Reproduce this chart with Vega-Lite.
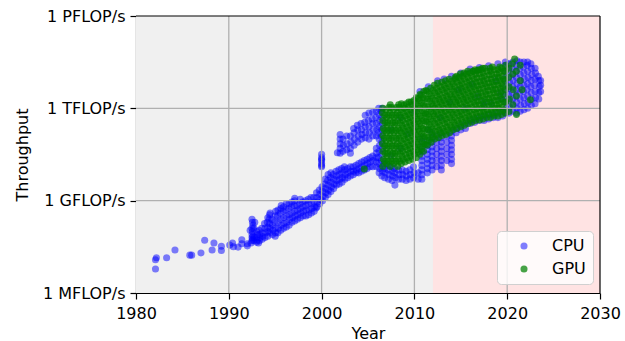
{
"$schema":"https://vega.github.io/schema/vega-lite/v6.json",
"width":464,"height":277,
"autosize":{"type":"none"},
"padding":{"left":136,"top":16,"right":25,"bottom":48},
"background":"white",
"config":{"view":{"stroke":null},"font":"DejaVu Sans",
"axis":{"labelFont":"DejaVu Sans","titleFont":"DejaVu Sans","labelFontSize":16,"titleFontSize":16,"labelColor":"#000","titleColor":"#000","titleFontWeight":"normal","tickColor":"#000","domainColor":"#000","tickSize":6,"domainWidth":1.2,"tickWidth":1.2,"grid":false,"zindex":1,"labelOverlap":false,"labelFlush":false},
"axisX":{"labelPadding":6,"titlePadding":4},
"axisY":{"labelPadding":5,"titlePadding":12}},
"datasets":{
"cpu":[
{"year":1982.1,"flops":1.2e7},{"year":1982.2,"flops":1.4e7},{"year":1982.1,"flops":6e6},{"year":1983.3,"flops":1.4e7},{"year":1984.2,"flops":2.5e7},{"year":1985.8,"flops":1.7e7},{"year":1986.0,"flops":1.7e7},{"year":1987.0,"flops":2e7},{"year":1987.4,"flops":5.2e7},{"year":1988.2,"flops":2.5e7},{"year":1988.4,"flops":4.2e7},{"year":1989.2,"flops":3.3e7},{"year":1989.2,"flops":2.4e7},{"year":1990.1,"flops":3.6e7},{"year":1990.4,"flops":4.2e7},{"year":1990.5,"flops":3.2e7},{"year":1991.0,"flops":3.1e7},{"year":1991.4,"flops":5.4e7},{"year":1991.4,"flops":4e7},{"year":1992.0,"flops":3.4e7},{"year":1992.0,"flops":4e7},{"year":1992.3,"flops":1.1e8},{"year":1992.4,"flops":4.2e7},{"year":1993.2,"flops":4.2e7},
{"year":1992.5,"flops":5e7},{"year":1992.55,"flops":5.6e7},{"year":1992.5,"flops":6.3e7},{"year":1992.6,"flops":7e7},{"year":1992.5,"flops":8e7},{"year":1992.55,"flops":1e8},{"year":1992.5,"flops":1.26e8},{"year":1992.6,"flops":1.6e8},{"year":1992.55,"flops":2e8},{"year":1992.5,"flops":2.5e8},
{"year":1992.7,"flops":5e7},{"year":1992.75,"flops":6.3e7},{"year":1992.7,"flops":1.26e8},{"year":1992.8,"flops":2e8},
{"year":1993.0,"flops":4.5e7},{"year":1993.05,"flops":5.2e7},{"year":1993.0,"flops":6.3e7},{"year":1993.1,"flops":8e7},{"year":1993.0,"flops":1e8},
{"year":1993.3,"flops":5e7},{"year":1993.35,"flops":6.3e7},{"year":1993.3,"flops":8e7},{"year":1993.25,"flops":1.1e8},
{"year":1993.6,"flops":5.6e7},{"year":1993.65,"flops":7e7},{"year":1993.6,"flops":9e7},{"year":1993.55,"flops":1.26e8},
{"year":1993.9,"flops":6.3e7},{"year":1993.95,"flops":9e7},{"year":1993.9,"flops":1.26e8},{"year":1993.85,"flops":1.8e8},
{"year":1994.2,"flops":7e7},{"year":1994.25,"flops":1e8},{"year":1994.2,"flops":1.4e8},{"year":1994.15,"flops":2e8},{"year":1994.2,"flops":2.8e8},
{"year":1994.4,"flops":9e7},{"year":1994.45,"flops":1.26e8},{"year":1994.4,"flops":1.8e8},{"year":1994.35,"flops":2.5e8},{"year":1994.4,"flops":3.5e8},{"year":1994.45,"flops":4e8},
{"year":1994.7,"flops":8e7},{"year":1994.75,"flops":1.1e8},{"year":1994.7,"flops":1.6e8},{"year":1994.65,"flops":2.5e8},
{"year":1995.0,"flops":7e7},{"year":1995.05,"flops":9e7},{"year":1995.0,"flops":1.26e8},{"year":1994.95,"flops":2e8},{"year":1995.0,"flops":3.2e8},{"year":1995.05,"flops":4.5e8},
{"year":1995.3,"flops":9e7},{"year":1995.35,"flops":1.26e8},{"year":1995.3,"flops":2e8},{"year":1995.25,"flops":3.2e8},{"year":1995.3,"flops":5e8},
{"year":1995.6,"flops":1.1e8},{"year":1995.65,"flops":1.6e8},{"year":1995.6,"flops":2.5e8},{"year":1995.55,"flops":4e8},{"year":1995.6,"flops":5.6e8},{"year":1995.65,"flops":7e8},
{"year":1995.9,"flops":1.26e8},{"year":1995.95,"flops":1.8e8},{"year":1995.9,"flops":2.8e8},{"year":1995.85,"flops":4.5e8},{"year":1995.9,"flops":6.3e8},
{"year":1996.2,"flops":1.4e8},{"year":1996.25,"flops":2e8},{"year":1996.2,"flops":3.2e8},{"year":1996.15,"flops":5e8},{"year":1996.2,"flops":8e8},
{"year":1996.5,"flops":1.6e8},{"year":1996.55,"flops":2.5e8},{"year":1996.5,"flops":3.5e8},{"year":1996.45,"flops":5.6e8},{"year":1996.5,"flops":8e8},
{"year":1996.8,"flops":2e8},{"year":1996.85,"flops":2.8e8},{"year":1996.8,"flops":4e8},{"year":1996.75,"flops":6.3e8},{"year":1996.8,"flops":9e8},
{"year":1997.1,"flops":2.2e8},{"year":1997.15,"flops":3.2e8},{"year":1997.1,"flops":4.5e8},{"year":1997.05,"flops":7e8},{"year":1997.1,"flops":1e9},{"year":1997.1,"flops":1.2e9},
{"year":1997.4,"flops":2.5e8},{"year":1997.45,"flops":3.5e8},{"year":1997.4,"flops":5e8},{"year":1997.35,"flops":7e8},
{"year":1997.7,"flops":2.8e8},{"year":1997.75,"flops":4e8},{"year":1997.7,"flops":5.6e8},{"year":1997.65,"flops":8e8},{"year":1997.7,"flops":1.1e9},
{"year":1998.0,"flops":3.2e8},{"year":1998.05,"flops":4.5e8},{"year":1998.0,"flops":6.3e8},{"year":1997.95,"flops":9e8},
{"year":1998.3,"flops":3.2e8},{"year":1998.35,"flops":5e8},{"year":1998.3,"flops":7e8},{"year":1998.25,"flops":1e9},
{"year":1998.6,"flops":3.5e8},{"year":1998.65,"flops":5e8},{"year":1998.6,"flops":8e8},{"year":1998.55,"flops":1.1e9},
{"year":1998.9,"flops":4e8},{"year":1998.95,"flops":5.6e8},{"year":1998.9,"flops":8e8},{"year":1998.85,"flops":1.26e9},
{"year":1999.2,"flops":4.5e8},{"year":1999.25,"flops":6.3e8},{"year":1999.2,"flops":9e8},{"year":1999.15,"flops":1.26e9},{"year":1999.4,"flops":5.8e8},
{"year":1999.5,"flops":6.3e8},{"year":1999.55,"flops":9e8},{"year":1999.5,"flops":1.26e9},{"year":1999.45,"flops":1.8e9},
{"year":1999.8,"flops":8e8},{"year":1999.85,"flops":1.1e9},{"year":1999.8,"flops":1.6e9},{"year":1999.75,"flops":2.2e9},
{"year":2000.0,"flops":1.26e10},{"year":2000.0,"flops":1.4e10},{"year":2000.0,"flops":1.6e10},{"year":2000.0,"flops":2e10},{"year":2000.0,"flops":2.2e10},{"year":2000.0,"flops":2.5e10},{"year":2000.0,"flops":3.2e10},
{"year":2000.1,"flops":1e9},{"year":2000.15,"flops":1.4e9},{"year":2000.1,"flops":2e9},{"year":2000.05,"flops":2.8e9},
{"year":2000.4,"flops":1.26e9},{"year":2000.45,"flops":1.8e9},{"year":2000.4,"flops":2.5e9},{"year":2000.35,"flops":3.5e9},{"year":2000.4,"flops":5e9},
{"year":2000.7,"flops":1.6e9},{"year":2000.75,"flops":2.2e9},{"year":2000.7,"flops":3.2e9},{"year":2000.65,"flops":4.5e9},{"year":2000.7,"flops":7e9},
{"year":2001.0,"flops":2e9},{"year":2001.05,"flops":2.8e9},{"year":2001.0,"flops":4e9},{"year":2000.95,"flops":5.6e9},{"year":2001.0,"flops":8e9},
{"year":2001.3,"flops":2.5e9},{"year":2001.35,"flops":3.5e9},{"year":2001.3,"flops":5e9},{"year":2001.25,"flops":7e9},
{"year":2001.6,"flops":3.2e9},{"year":2001.65,"flops":4.5e9},{"year":2001.6,"flops":6.3e9},{"year":2001.55,"flops":9e9},
{"year":2001.9,"flops":3.5e9},{"year":2001.95,"flops":5e9},{"year":2001.9,"flops":7e9},{"year":2001.85,"flops":1e10},
{"year":2002.2,"flops":4e9},{"year":2002.25,"flops":5.6e9},{"year":2002.2,"flops":8e9},{"year":2002.15,"flops":1.1e10},
{"year":2002.5,"flops":5e9},{"year":2002.55,"flops":7e9},{"year":2002.5,"flops":1e10},{"year":2002.45,"flops":1.26e10},
{"year":2002.8,"flops":5.6e9},{"year":2002.85,"flops":8e9},{"year":2002.8,"flops":1.1e10},
{"year":2003.1,"flops":6.3e9},{"year":2003.15,"flops":9e9},{"year":2003.1,"flops":1.26e10},
{"year":2003.4,"flops":7e9},{"year":2003.45,"flops":9e9},{"year":2003.4,"flops":1.26e10},
{"year":2003.7,"flops":8e9},{"year":2003.75,"flops":1e10},{"year":2003.7,"flops":1.4e10},
{"year":2004.0,"flops":8e9},{"year":2004.05,"flops":1.1e10},{"year":2004.0,"flops":1.6e10},
{"year":2004.3,"flops":9e9},{"year":2004.35,"flops":1.26e10},{"year":2004.3,"flops":1.8e10},
{"year":2004.6,"flops":1e10},{"year":2004.65,"flops":1.4e10},{"year":2004.6,"flops":2e10},
{"year":2004.9,"flops":1.1e10},{"year":2004.95,"flops":1.6e10},{"year":2004.9,"flops":2.2e10},
{"year":2005.2,"flops":1.26e10},{"year":2005.25,"flops":1.8e10},{"year":2005.2,"flops":2.5e10},
{"year":2005.5,"flops":1.26e10},{"year":2005.55,"flops":2e10},{"year":2005.5,"flops":2.8e10},
{"year":2005.9,"flops":1.26e10},{"year":2005.9,"flops":1.8e10},{"year":2005.9,"flops":2.5e10},{"year":2005.9,"flops":3.5e10},{"year":2005.9,"flops":5e10},
{"year":2001.7,"flops":3.6e10},
{"year":2002.0,"flops":3.5e10},{"year":2002.0,"flops":5e10},{"year":2002.0,"flops":7e10},{"year":2002.0,"flops":1e11},{"year":2002.0,"flops":1.4e11},
{"year":2002.3,"flops":4e10},{"year":2002.35,"flops":6.3e10},{"year":2002.3,"flops":1e11},
{"year":2002.7,"flops":4.5e10},{"year":2002.75,"flops":7e10},{"year":2002.7,"flops":1.26e11},
{"year":2003.1,"flops":3.5e10},{"year":2003.1,"flops":5e10},{"year":2003.15,"flops":8e10},{"year":2003.1,"flops":1.26e11},
{"year":2003.5,"flops":6.3e10},{"year":2003.55,"flops":1e11},{"year":2003.5,"flops":1.6e11},{"year":2003.45,"flops":2.2e11},
{"year":2003.9,"flops":8e10},{"year":2003.95,"flops":1.26e11},{"year":2003.9,"flops":2e11},{"year":2003.85,"flops":2.8e11},
{"year":2004.3,"flops":1e11},{"year":2004.35,"flops":1.4e11},{"year":2004.3,"flops":2e11},{"year":2004.25,"flops":3.2e11},
{"year":2004.7,"flops":1.1e11},{"year":2004.75,"flops":1.6e11},{"year":2004.7,"flops":2.5e11},{"year":2004.65,"flops":3.5e11},{"year":2004.7,"flops":6e11},
{"year":2005.1,"flops":1e11},{"year":2005.15,"flops":1.6e11},{"year":2005.1,"flops":2.5e11},{"year":2005.05,"flops":4e11},{"year":2005.1,"flops":7e11},
{"year":2005.5,"flops":1.26e11},{"year":2005.55,"flops":2e11},{"year":2005.5,"flops":3.2e11},{"year":2005.45,"flops":4.5e11},{"year":2005.5,"flops":7.5e11},
{"year":2005.9,"flops":1.26e11},{"year":2005.95,"flops":2e11},{"year":2005.9,"flops":3.2e11},{"year":2005.85,"flops":5e11},{"year":2005.9,"flops":8e11},
{"year":2006.2,"flops":8e9},{"year":2006.25,"flops":1.1e10},{"year":2006.2,"flops":1.6e10},{"year":2006.15,"flops":2.5e10},{"year":2006.2,"flops":4e10},{"year":2006.25,"flops":6.3e10},{"year":2006.2,"flops":1e11},{"year":2006.15,"flops":1.6e11},{"year":2006.2,"flops":2.5e11},{"year":2006.25,"flops":4e11},{"year":2006.2,"flops":6.3e11},{"year":2006.15,"flops":1e12},
{"year":2006.5,"flops":6.3e9},{"year":2006.55,"flops":9e9},{"year":2006.5,"flops":1.26e10},{"year":2006.45,"flops":2e10},{"year":2006.5,"flops":3.2e10},{"year":2006.55,"flops":5e10},{"year":2006.5,"flops":8e10},{"year":2006.45,"flops":1.26e11},{"year":2006.5,"flops":2e11},{"year":2006.55,"flops":3.2e11},{"year":2006.5,"flops":5e11},{"year":2006.45,"flops":8e11},{"year":2006.5,"flops":1e12},
{"year":2006.8,"flops":5.6e9},{"year":2006.85,"flops":8e9},{"year":2006.8,"flops":1.1e10},{"year":2006.75,"flops":1.6e10},
{"year":2007.2,"flops":5e9},{"year":2007.25,"flops":7e9},{"year":2007.2,"flops":1e10},{"year":2007.15,"flops":1.4e10},
{"year":2007.6,"flops":4.5e9},{"year":2007.65,"flops":6.3e9},{"year":2007.6,"flops":9e9},{"year":2007.55,"flops":1.26e10},
{"year":2007.9,"flops":3.2e9},{"year":2007.95,"flops":5.6e9},{"year":2007.9,"flops":8e9},{"year":2007.85,"flops":1.1e10},
{"year":2008.3,"flops":5e9},{"year":2008.35,"flops":7e9},{"year":2008.3,"flops":1e10},
{"year":2008.7,"flops":5e9},{"year":2008.75,"flops":7e9},{"year":2008.7,"flops":1e10},
{"year":2009.1,"flops":4.5e9},{"year":2009.15,"flops":6.3e9},{"year":2009.1,"flops":9e9},
{"year":2009.5,"flops":5e9},{"year":2009.55,"flops":7e9},{"year":2009.5,"flops":1e10},
{"year":2009.9,"flops":5.6e9},{"year":2009.95,"flops":8e9},{"year":2009.9,"flops":1.26e10},
{"year":2010.4,"flops":5e9},{"year":2010.4,"flops":8e9},
{"year":2010.8,"flops":5e9},{"year":2010.8,"flops":7e9},{"year":2010.8,"flops":1e10},{"year":2010.8,"flops":1.4e10},{"year":2010.8,"flops":2e10},{"year":2010.8,"flops":2.8e10},{"year":2010.8,"flops":4e10},{"year":2010.8,"flops":5.6e10},{"year":2010.8,"flops":8e10},{"year":2010.8,"flops":1.1e11},
{"year":2011.4,"flops":8e9},{"year":2011.4,"flops":1.1e10},{"year":2011.4,"flops":1.6e10},{"year":2011.4,"flops":2.2e10},{"year":2011.4,"flops":3.2e10},{"year":2011.4,"flops":4.5e10},{"year":2011.4,"flops":6.3e10},{"year":2011.4,"flops":9e10},
{"year":2011.9,"flops":1e10},{"year":2011.9,"flops":1.4e10},{"year":2011.9,"flops":2e10},{"year":2011.9,"flops":2.8e10},{"year":2011.9,"flops":4e10},{"year":2011.9,"flops":5.6e10},{"year":2011.9,"flops":8e10},{"year":2011.9,"flops":1.1e11},{"year":2011.9,"flops":1.6e11},
{"year":2012.4,"flops":1.26e10},{"year":2012.4,"flops":2e10},{"year":2012.4,"flops":3.2e10},{"year":2012.4,"flops":5e10},{"year":2012.4,"flops":8e10},{"year":2012.4,"flops":1.26e11},
{"year":2012.9,"flops":1e10},{"year":2012.9,"flops":1.4e10},{"year":2012.9,"flops":2e10},{"year":2012.9,"flops":2.8e10},{"year":2012.9,"flops":4e10},{"year":2012.9,"flops":5.6e10},{"year":2012.9,"flops":8e10},{"year":2012.9,"flops":1.1e11},{"year":2012.9,"flops":1.6e11},
{"year":2013.5,"flops":2e10},{"year":2013.5,"flops":3.2e10},{"year":2013.5,"flops":5e10},{"year":2013.5,"flops":8e10},{"year":2013.5,"flops":1.26e11},
{"year":2014.0,"flops":1.6e10},{"year":2014.0,"flops":2.2e10},{"year":2014.0,"flops":3.2e10},{"year":2014.0,"flops":4.5e10},{"year":2014.0,"flops":6.3e10},{"year":2014.0,"flops":9e10},{"year":2014.0,"flops":1.26e11},{"year":2014.0,"flops":1.8e11},
{"year":2014.5,"flops":1.6e11},{"year":2014.5,"flops":2.2e11},{"year":2015.0,"flops":2e11},{"year":2015.0,"flops":2.8e11},{"year":2015.5,"flops":2.2e11},{"year":2015.5,"flops":3.2e11},{"year":2016.0,"flops":3.2e11},{"year":2016.0,"flops":4e11},{"year":2016.5,"flops":3.5e11},{"year":2016.5,"flops":4.5e11},{"year":2017.0,"flops":4e11},{"year":2017.0,"flops":5e11},{"year":2017.5,"flops":4e11},{"year":2017.5,"flops":5.6e11},{"year":2018.0,"flops":4.5e11},{"year":2018.0,"flops":6.3e11},{"year":2018.5,"flops":5e11},{"year":2018.5,"flops":6.3e11},{"year":2019.0,"flops":5e11},{"year":2019.0,"flops":7e11},{"year":2019.5,"flops":5.6e11},{"year":2019.5,"flops":8e11},
{"year":2010.6,"flops":3.5e12},{"year":2011.5,"flops":5e12},{"year":2012.5,"flops":7.9e12},{"year":2013.2,"flops":8.9e12},{"year":2014.0,"flops":1.1e13},{"year":2015.0,"flops":1.4e13},{"year":2016.0,"flops":1.9e13},{"year":2017.0,"flops":2.1e13},{"year":2018.0,"flops":2.4e13},{"year":2019.0,"flops":2.8e13},{"year":2019.8,"flops":3.2e13},
{"year":2019.8,"flops":7e11},{"year":2019.85,"flops":1e12},{"year":2019.8,"flops":1.6e12},{"year":2019.75,"flops":2.5e12},{"year":2019.8,"flops":4e12},{"year":2019.85,"flops":6.3e12},{"year":2019.8,"flops":1e13},{"year":2019.75,"flops":1.6e13},{"year":2019.8,"flops":2.5e13},
{"year":2020.2,"flops":7e11},{"year":2020.25,"flops":1.1e12},{"year":2020.2,"flops":1.8e12},{"year":2020.15,"flops":2.8e12},{"year":2020.2,"flops":4.5e12},{"year":2020.25,"flops":7e12},{"year":2020.2,"flops":1.1e13},{"year":2020.15,"flops":1.8e13},{"year":2020.2,"flops":2.8e13},
{"year":2020.6,"flops":8e11},{"year":2020.65,"flops":1.26e12},{"year":2020.6,"flops":2e12},{"year":2020.55,"flops":3.2e12},{"year":2020.6,"flops":5e12},{"year":2020.65,"flops":8e12},{"year":2020.6,"flops":1.26e13},{"year":2020.55,"flops":2e13},{"year":2020.6,"flops":3.2e13},
{"year":2021.0,"flops":7e11},{"year":2021.05,"flops":1e12},{"year":2021.0,"flops":1.6e12},{"year":2020.95,"flops":2.5e12},{"year":2021.0,"flops":4e12},{"year":2021.05,"flops":6.3e12},{"year":2021.0,"flops":1e13},{"year":2020.95,"flops":1.6e13},{"year":2021.0,"flops":2.5e13},{"year":2021.05,"flops":3.5e13},
{"year":2021.4,"flops":8e11},{"year":2021.45,"flops":1.26e12},{"year":2021.4,"flops":2e12},{"year":2021.35,"flops":3.2e12},{"year":2021.4,"flops":5e12},{"year":2021.45,"flops":8e12},{"year":2021.4,"flops":1.26e13},{"year":2021.35,"flops":2e13},{"year":2021.4,"flops":3.2e13},
{"year":2021.8,"flops":9e11},{"year":2021.85,"flops":1.4e12},{"year":2021.8,"flops":2.2e12},{"year":2021.75,"flops":3.5e12},{"year":2021.8,"flops":5.6e12},{"year":2021.85,"flops":9e12},{"year":2021.8,"flops":1.4e13},{"year":2021.75,"flops":2.2e13},{"year":2021.8,"flops":3.2e13},
{"year":2022.2,"flops":1e12},{"year":2022.25,"flops":1.6e12},{"year":2022.2,"flops":2.5e12},{"year":2022.15,"flops":4e12},{"year":2022.2,"flops":6.3e12},{"year":2022.25,"flops":1e13},{"year":2022.2,"flops":1.6e13},{"year":2022.15,"flops":2.5e13},{"year":2022.2,"flops":3.2e13},
{"year":2022.6,"flops":1.26e12},{"year":2022.65,"flops":2e12},{"year":2022.6,"flops":3.2e12},{"year":2022.55,"flops":5e12},{"year":2022.6,"flops":8e12},{"year":2022.65,"flops":1.26e13},{"year":2022.6,"flops":2e13},{"year":2022.55,"flops":2.8e13},
{"year":2023.0,"flops":1.4e12},{"year":2023.05,"flops":2.2e12},{"year":2023.0,"flops":3.5e12},{"year":2022.95,"flops":5.6e12},{"year":2023.0,"flops":9e12},{"year":2023.05,"flops":1.4e13},{"year":2023.0,"flops":2e13},
{"year":2023.4,"flops":2e12},{"year":2023.4,"flops":3.2e12},{"year":2023.45,"flops":5e12},{"year":2023.4,"flops":8e12},{"year":2023.35,"flops":1.1e13},
{"year":2023.6,"flops":3.5e12},{"year":2023.6,"flops":5.6e12},{"year":2023.6,"flops":8e12},
{"year":2007.5,"flops":3e10},{"year":2007.5,"flops":2e11},{"year":2008.5,"flops":5e10},{"year":2008.5,"flops":5e11},{"year":2009.3,"flops":1.5e11},{"year":2010.0,"flops":8e11},{"year":2011.5,"flops":2e11},{"year":2012.8,"flops":5e11},{"year":2013.8,"flops":1.6e12},{"year":2014.8,"flops":4e12},{"year":2015.5,"flops":1e12},{"year":2016.2,"flops":6e12},{"year":2016.8,"flops":2.5e12},{"year":2017.5,"flops":1.26e12},{"year":2017.5,"flops":1.6e12},{"year":2018.3,"flops":1.4e12},{"year":2018.8,"flops":8e12},{"year":2019.3,"flops":2e12},{"year":2019.3,"flops":3.2e12}
],
"gpu":[
{"year":2004.6,"flops":1.07e10},
{"year":2006.6,"flops":1.3e10},{"year":2006.65,"flops":2.2e10},{"year":2006.6,"flops":4e10},{"year":2006.55,"flops":7.1e10},{"year":2006.6,"flops":1.3e11},{"year":2006.65,"flops":2.2e11},{"year":2006.6,"flops":4e11},{"year":2006.55,"flops":7.1e11},{"year":2006.6,"flops":1e12},
{"year":2007.0,"flops":1.6e10},{"year":2007.05,"flops":2.8e10},{"year":2007.0,"flops":5e10},{"year":2006.95,"flops":8.9e10},{"year":2007.0,"flops":1.6e11},{"year":2007.05,"flops":2.8e11},{"year":2007.0,"flops":5e11},{"year":2006.95,"flops":8.9e11},
{"year":2007.4,"flops":1.3e10},{"year":2007.45,"flops":2.2e10},{"year":2007.4,"flops":4e10},{"year":2007.35,"flops":7.1e10},{"year":2007.4,"flops":1.3e11},{"year":2007.45,"flops":2.2e11},{"year":2007.4,"flops":4e11},{"year":2007.35,"flops":7.1e11},{"year":2007.4,"flops":1.3e12},
{"year":2007.8,"flops":1.6e10},{"year":2007.85,"flops":2.8e10},{"year":2007.8,"flops":5e10},{"year":2007.75,"flops":8.9e10},{"year":2007.8,"flops":1.6e11},{"year":2007.85,"flops":2.8e11},{"year":2007.8,"flops":5e11},{"year":2007.75,"flops":8.9e11},
{"year":2008.2,"flops":1.3e10},{"year":2008.25,"flops":2.2e10},{"year":2008.2,"flops":4e10},{"year":2008.15,"flops":7.1e10},{"year":2008.2,"flops":1.3e11},{"year":2008.25,"flops":2.2e11},{"year":2008.2,"flops":4e11},{"year":2008.15,"flops":7.1e11},{"year":2008.3,"flops":1.3e12},
{"year":2008.6,"flops":1.6e10},{"year":2008.65,"flops":2.8e10},{"year":2008.6,"flops":5e10},{"year":2008.55,"flops":8.9e10},{"year":2008.6,"flops":1.6e11},{"year":2008.65,"flops":2.8e11},{"year":2008.6,"flops":5e11},{"year":2008.55,"flops":8.9e11},{"year":2008.6,"flops":1.4e12},
{"year":2009.0,"flops":1.8e10},{"year":2009.05,"flops":3.2e10},{"year":2009.0,"flops":5.6e10},{"year":2008.95,"flops":1e11},{"year":2009.0,"flops":1.8e11},{"year":2009.05,"flops":3.2e11},{"year":2009.0,"flops":5.6e11},{"year":2008.95,"flops":1e12},
{"year":2009.4,"flops":2e10},{"year":2009.45,"flops":3.5e10},{"year":2009.4,"flops":6.3e10},{"year":2009.35,"flops":1.1e11},{"year":2009.4,"flops":2e11},{"year":2009.45,"flops":3.5e11},{"year":2009.4,"flops":6.3e11},{"year":2009.35,"flops":1.1e12},{"year":2009.4,"flops":1.6e12},
{"year":2009.8,"flops":2.2e10},{"year":2009.85,"flops":4e10},{"year":2009.8,"flops":7.1e10},{"year":2009.75,"flops":1.3e11},{"year":2009.8,"flops":2.2e11},{"year":2009.85,"flops":4e11},{"year":2009.8,"flops":7.1e11},{"year":2009.75,"flops":1.3e12},
{"year":2010.2,"flops":2.5e10},{"year":2010.25,"flops":4.5e10},{"year":2010.2,"flops":7.9e10},{"year":2010.15,"flops":1.4e11},{"year":2010.2,"flops":2.5e11},{"year":2010.25,"flops":4.5e11},{"year":2010.2,"flops":7.9e11},{"year":2010.15,"flops":1.4e12},{"year":2010.2,"flops":2.2e12},
{"year":2010.6,"flops":3.2e10},{"year":2010.65,"flops":5.6e10},{"year":2010.6,"flops":1e11},{"year":2010.55,"flops":1.8e11},{"year":2010.6,"flops":3.2e11},{"year":2010.65,"flops":5.6e11},{"year":2010.6,"flops":1e12},{"year":2010.55,"flops":1.8e12},{"year":2010.6,"flops":2.8e12},
{"year":2011.0,"flops":4e10},{"year":2011.05,"flops":7.1e10},{"year":2011.0,"flops":1.3e11},{"year":2010.95,"flops":2.2e11},{"year":2011.0,"flops":4e11},{"year":2011.05,"flops":7.1e11},{"year":2011.0,"flops":1.3e12},{"year":2010.95,"flops":2.2e12},{"year":2011.0,"flops":3.5e12},
{"year":2011.4,"flops":6.3e10},{"year":2011.45,"flops":1.1e11},{"year":2011.4,"flops":2e11},{"year":2011.35,"flops":3.5e11},{"year":2011.4,"flops":6.3e11},{"year":2011.45,"flops":1.1e12},{"year":2011.4,"flops":2e12},{"year":2011.35,"flops":3.5e12},
{"year":2011.8,"flops":7.9e10},{"year":2011.85,"flops":1.4e11},{"year":2011.8,"flops":2.5e11},{"year":2011.75,"flops":4.5e11},{"year":2011.8,"flops":7.9e11},{"year":2011.85,"flops":1.4e12},{"year":2011.8,"flops":2.5e12},{"year":2011.75,"flops":4.5e12},
{"year":2012.2,"flops":1e11},{"year":2012.25,"flops":1.8e11},{"year":2012.2,"flops":3.2e11},{"year":2012.15,"flops":5.6e11},{"year":2012.2,"flops":1e12},{"year":2012.25,"flops":1.8e12},{"year":2012.2,"flops":3.2e12},{"year":2012.15,"flops":5.6e12},
{"year":2012.6,"flops":1.1e11},{"year":2012.65,"flops":2e11},{"year":2012.6,"flops":3.5e11},{"year":2012.55,"flops":6.3e11},{"year":2012.6,"flops":1.1e12},{"year":2012.65,"flops":2e12},{"year":2012.6,"flops":3.5e12},{"year":2012.5,"flops":6.5e12},
{"year":2013.0,"flops":1.3e11},{"year":2013.05,"flops":2.2e11},{"year":2013.0,"flops":4e11},{"year":2012.95,"flops":7.1e11},{"year":2013.0,"flops":1.3e12},{"year":2013.05,"flops":2.2e12},{"year":2013.0,"flops":4e12},{"year":2012.95,"flops":7.1e12},
{"year":2013.4,"flops":1.4e11},{"year":2013.45,"flops":2.5e11},{"year":2013.4,"flops":4.5e11},{"year":2013.35,"flops":7.9e11},{"year":2013.4,"flops":1.4e12},{"year":2013.45,"flops":2.5e12},{"year":2013.4,"flops":4.5e12},{"year":2013.35,"flops":7.9e12},
{"year":2013.8,"flops":1.6e11},{"year":2013.85,"flops":2.8e11},{"year":2013.8,"flops":5e11},{"year":2013.75,"flops":8.9e11},{"year":2013.8,"flops":1.6e12},{"year":2013.85,"flops":2.8e12},{"year":2013.8,"flops":5e12},{"year":2013.75,"flops":8.9e12},
{"year":2014.2,"flops":2e11},{"year":2014.25,"flops":3.5e11},{"year":2014.2,"flops":6.3e11},{"year":2014.15,"flops":1.1e12},{"year":2014.2,"flops":2e12},{"year":2014.25,"flops":3.5e12},{"year":2014.2,"flops":6.3e12},{"year":2014.4,"flops":1e13},
{"year":2014.6,"flops":2.2e11},{"year":2014.65,"flops":4e11},{"year":2014.6,"flops":7.1e11},{"year":2014.55,"flops":1.3e12},{"year":2014.6,"flops":2.2e12},{"year":2014.65,"flops":4e12},{"year":2014.6,"flops":7.1e12},{"year":2014.55,"flops":1.1e13},
{"year":2015.0,"flops":2.5e11},{"year":2015.05,"flops":4.5e11},{"year":2015.0,"flops":7.9e11},{"year":2014.95,"flops":1.4e12},{"year":2015.0,"flops":2.5e12},{"year":2015.05,"flops":4.5e12},{"year":2015.0,"flops":7.9e12},{"year":2014.95,"flops":1.3e13},
{"year":2015.4,"flops":2.8e11},{"year":2015.45,"flops":5e11},{"year":2015.4,"flops":8.9e11},{"year":2015.35,"flops":1.6e12},{"year":2015.4,"flops":2.8e12},{"year":2015.45,"flops":5e12},{"year":2015.4,"flops":8.9e12},{"year":2015.35,"flops":1.4e13},
{"year":2015.8,"flops":3.2e11},{"year":2015.85,"flops":5.6e11},{"year":2015.8,"flops":1e12},{"year":2015.75,"flops":1.8e12},{"year":2015.8,"flops":3.2e12},{"year":2015.85,"flops":5.6e12},{"year":2015.8,"flops":1e13},{"year":2015.75,"flops":1.6e13},
{"year":2016.2,"flops":3.5e11},{"year":2016.25,"flops":6.3e11},{"year":2016.2,"flops":1.1e12},{"year":2016.15,"flops":2e12},{"year":2016.2,"flops":3.5e12},{"year":2016.25,"flops":6.3e12},{"year":2016.2,"flops":1.1e13},{"year":2016.3,"flops":1.6e13},
{"year":2016.6,"flops":4e11},{"year":2016.65,"flops":7.1e11},{"year":2016.6,"flops":1.3e12},{"year":2016.55,"flops":2.2e12},{"year":2016.6,"flops":4e12},{"year":2016.65,"flops":7.1e12},{"year":2016.6,"flops":1.3e13},{"year":2016.55,"flops":1.8e13},
{"year":2017.0,"flops":4.2e11},{"year":2017.05,"flops":7.4e11},{"year":2017.0,"flops":1.3e12},{"year":2016.95,"flops":2.3e12},{"year":2017.0,"flops":4.2e12},{"year":2017.05,"flops":7.4e12},{"year":2017.0,"flops":1.3e13},{"year":2016.95,"flops":1.8e13},
{"year":2017.4,"flops":4.5e11},{"year":2017.45,"flops":7.9e11},{"year":2017.4,"flops":1.4e12},{"year":2017.35,"flops":2.5e12},{"year":2017.4,"flops":4.5e12},{"year":2017.45,"flops":7.9e12},{"year":2017.4,"flops":1.4e13},{"year":2017.35,"flops":2e13},
{"year":2017.8,"flops":5e11},{"year":2017.85,"flops":8.9e11},{"year":2017.8,"flops":1.6e12},{"year":2017.75,"flops":2.8e12},{"year":2017.8,"flops":5e12},{"year":2017.85,"flops":8.9e12},{"year":2017.8,"flops":1.6e13},
{"year":2018.2,"flops":5e11},{"year":2018.25,"flops":8.9e11},{"year":2018.2,"flops":1.6e12},{"year":2018.15,"flops":2.8e12},{"year":2018.2,"flops":5e12},{"year":2018.25,"flops":8.9e12},{"year":2018.2,"flops":1.6e13},{"year":2018.15,"flops":2e13},
{"year":2018.6,"flops":5.6e11},{"year":2018.65,"flops":1e12},{"year":2018.6,"flops":1.8e12},{"year":2018.55,"flops":3.2e12},{"year":2018.6,"flops":5.6e12},{"year":2018.65,"flops":1e13},{"year":2018.6,"flops":1.8e13},
{"year":2019.0,"flops":5.6e11},{"year":2019.05,"flops":1e12},{"year":2019.0,"flops":1.8e12},{"year":2018.95,"flops":3.2e12},{"year":2019.0,"flops":5.6e12},{"year":2019.05,"flops":1e13},{"year":2019.0,"flops":1.8e13},{"year":2019.2,"flops":2.2e13},
{"year":2019.4,"flops":6.3e11},{"year":2019.45,"flops":1.1e12},{"year":2019.4,"flops":2e12},{"year":2019.35,"flops":3.5e12},{"year":2019.4,"flops":6.3e12},{"year":2019.45,"flops":1.1e13},{"year":2019.4,"flops":2e13},
{"year":2019.8,"flops":7.1e11},{"year":2019.85,"flops":1.6e12},{"year":2019.8,"flops":4e12},{"year":2019.75,"flops":7.9e12},{"year":2019.8,"flops":1.6e13},{"year":2019.85,"flops":2.5e13},
{"year":2020.2,"flops":7.9e11},{"year":2020.25,"flops":2e12},{"year":2020.2,"flops":5e12},{"year":2020.15,"flops":1e13},{"year":2020.2,"flops":2e13},
{"year":2020.6,"flops":1.3e12},{"year":2020.65,"flops":4e12},{"year":2020.6,"flops":1.3e13},{"year":2020.55,"flops":2.8e13},
{"year":2020.8,"flops":4e13},{"year":2021.0,"flops":6.3e11},{"year":2021.0,"flops":2.5e12},{"year":2021.0,"flops":1.6e13},{"year":2021.4,"flops":7.9e12},{"year":2021.4,"flops":2.5e13},{"year":2021.6,"flops":4e12},{"year":2022.5,"flops":1.9e12},
{"year":2006.8,"flops":1.9e10},{"year":2006.85,"flops":3.4e10},{"year":2006.8,"flops":6e10},{"year":2006.75,"flops":1.07e11},{"year":2006.8,"flops":1.9e11},{"year":2006.85,"flops":3.4e11},{"year":2006.8,"flops":6e11},
{"year":2007.2,"flops":1.9e10},{"year":2007.15,"flops":3.4e10},{"year":2007.2,"flops":6e10},{"year":2007.25,"flops":1.07e11},{"year":2007.2,"flops":1.9e11},{"year":2007.15,"flops":3.4e11},{"year":2007.2,"flops":6e11},{"year":2007.25,"flops":1.07e12},
{"year":2007.6,"flops":1.9e10},{"year":2007.65,"flops":3.4e10},{"year":2007.6,"flops":6e10},{"year":2007.55,"flops":1.07e11},{"year":2007.6,"flops":1.9e11},{"year":2007.65,"flops":3.4e11},{"year":2007.6,"flops":6e11},{"year":2007.55,"flops":1.07e12},
{"year":2008.0,"flops":1.9e10},{"year":2007.95,"flops":3.4e10},{"year":2008.0,"flops":6e10},{"year":2008.05,"flops":1.07e11},{"year":2008.0,"flops":1.9e11},{"year":2007.95,"flops":3.4e11},{"year":2008.0,"flops":6e11},{"year":2008.05,"flops":1.07e12},
{"year":2008.4,"flops":1.9e10},{"year":2008.45,"flops":3.4e10},{"year":2008.4,"flops":6e10},{"year":2008.35,"flops":1.07e11},{"year":2008.4,"flops":1.9e11},{"year":2008.45,"flops":3.4e11},{"year":2008.4,"flops":6e11},{"year":2008.35,"flops":1.07e12},
{"year":2008.8,"flops":2.2e10},{"year":2008.75,"flops":4e10},{"year":2008.8,"flops":7.1e10},{"year":2008.85,"flops":1.26e11},{"year":2008.8,"flops":2.2e11},{"year":2008.75,"flops":4e11},{"year":2008.8,"flops":7.1e11},{"year":2008.85,"flops":1.26e12},
{"year":2009.2,"flops":2.5e10},{"year":2009.25,"flops":4.5e10},{"year":2009.2,"flops":7.9e10},{"year":2009.15,"flops":1.4e11},{"year":2009.2,"flops":2.5e11},{"year":2009.25,"flops":4.5e11},{"year":2009.2,"flops":7.9e11},{"year":2009.15,"flops":1.4e12},
{"year":2009.6,"flops":2.8e10},{"year":2009.55,"flops":5e10},{"year":2009.6,"flops":8.9e10},{"year":2009.65,"flops":1.6e11},{"year":2009.6,"flops":2.8e11},{"year":2009.55,"flops":5e11},{"year":2009.6,"flops":8.9e11},{"year":2009.65,"flops":1.6e12},
{"year":2010.0,"flops":3.2e10},{"year":2010.05,"flops":5.6e10},{"year":2010.0,"flops":1e11},{"year":2009.95,"flops":1.8e11},{"year":2010.0,"flops":3.2e11},{"year":2010.05,"flops":5.6e11},{"year":2010.0,"flops":1e12},{"year":2009.95,"flops":1.8e12},
{"year":2010.4,"flops":3.8e10},{"year":2010.35,"flops":6.7e10},{"year":2010.4,"flops":1.2e11},{"year":2010.45,"flops":2.1e11},{"year":2010.4,"flops":3.8e11},{"year":2010.35,"flops":6.7e11},{"year":2010.4,"flops":1.2e12},{"year":2010.45,"flops":2.1e12},
{"year":2010.8,"flops":4.7e10},{"year":2010.85,"flops":8.4e10},{"year":2010.8,"flops":1.5e11},{"year":2010.75,"flops":2.7e11},{"year":2010.8,"flops":4.7e11},{"year":2010.85,"flops":8.4e11},{"year":2010.8,"flops":1.5e12},{"year":2010.75,"flops":2.7e12},
{"year":2011.2,"flops":6.7e10},{"year":2011.15,"flops":1.2e11},{"year":2011.2,"flops":2.1e11},{"year":2011.25,"flops":3.8e11},{"year":2011.2,"flops":6.7e11},{"year":2011.15,"flops":1.2e12},{"year":2011.2,"flops":2.1e12},{"year":2011.25,"flops":3.8e12},
{"year":2011.6,"flops":9.4e10},{"year":2011.65,"flops":1.7e11},{"year":2011.6,"flops":3e11},{"year":2011.55,"flops":5.3e11},{"year":2011.6,"flops":9.4e11},{"year":2011.65,"flops":1.7e12},{"year":2011.6,"flops":3e12},
{"year":2012.0,"flops":1.2e11},{"year":2011.95,"flops":2.1e11},{"year":2012.0,"flops":3.8e11},{"year":2012.05,"flops":6.7e11},{"year":2012.0,"flops":1.2e12},{"year":2011.95,"flops":2.1e12},{"year":2012.0,"flops":3.8e12},
{"year":2012.4,"flops":1.4e11},{"year":2012.45,"flops":2.5e11},{"year":2012.4,"flops":4.5e11},{"year":2012.35,"flops":7.9e11},{"year":2012.4,"flops":1.4e12},{"year":2012.45,"flops":2.5e12},{"year":2012.4,"flops":4.5e12},
{"year":2012.8,"flops":1.6e11},{"year":2012.75,"flops":2.8e11},{"year":2012.8,"flops":5e11},{"year":2012.85,"flops":8.9e11},{"year":2012.8,"flops":1.6e12},{"year":2012.75,"flops":2.8e12},{"year":2012.8,"flops":5e12},
{"year":2013.2,"flops":1.8e11},{"year":2013.25,"flops":3.2e11},{"year":2013.2,"flops":5.6e11},{"year":2013.15,"flops":1e12},{"year":2013.2,"flops":1.8e12},{"year":2013.25,"flops":3.2e12},{"year":2013.2,"flops":5.6e12},
{"year":2013.6,"flops":2e11},{"year":2013.55,"flops":3.5e11},{"year":2013.6,"flops":6.3e11},{"year":2013.65,"flops":1.1e12},{"year":2013.6,"flops":2e12},{"year":2013.55,"flops":3.5e12},{"year":2013.6,"flops":6.3e12},
{"year":2014.0,"flops":2.4e11},{"year":2014.05,"flops":4.2e11},{"year":2014.0,"flops":7.5e11},{"year":2013.95,"flops":1.3e12},{"year":2014.0,"flops":2.4e12},{"year":2014.05,"flops":4.2e12},{"year":2014.0,"flops":7.5e12},
{"year":2014.4,"flops":2.8e11},{"year":2014.35,"flops":5e11},{"year":2014.4,"flops":8.9e11},{"year":2014.45,"flops":1.6e12},{"year":2014.4,"flops":2.8e12},{"year":2014.35,"flops":5e12},{"year":2014.4,"flops":8.9e12},
{"year":2014.8,"flops":3.2e11},{"year":2014.85,"flops":5.6e11},{"year":2014.8,"flops":1e12},{"year":2014.75,"flops":1.8e12},{"year":2014.8,"flops":3.2e12},{"year":2014.85,"flops":5.6e12},{"year":2014.8,"flops":1e13},
{"year":2015.2,"flops":3.5e11},{"year":2015.15,"flops":6.3e11},{"year":2015.2,"flops":1.1e12},{"year":2015.25,"flops":2e12},{"year":2015.2,"flops":3.5e12},{"year":2015.15,"flops":6.3e12},{"year":2015.2,"flops":1.1e13},
{"year":2015.6,"flops":4e11},{"year":2015.65,"flops":7.1e11},{"year":2015.6,"flops":1.3e12},{"year":2015.55,"flops":2.2e12},{"year":2015.6,"flops":4e12},{"year":2015.65,"flops":7.1e12},{"year":2015.6,"flops":1.3e13},
{"year":2016.0,"flops":4.5e11},{"year":2015.95,"flops":7.9e11},{"year":2016.0,"flops":1.4e12},{"year":2016.05,"flops":2.5e12},{"year":2016.0,"flops":4.5e12},{"year":2015.95,"flops":7.9e12},{"year":2016.0,"flops":1.4e13},
{"year":2016.4,"flops":5e11},{"year":2016.45,"flops":8.9e11},{"year":2016.4,"flops":1.6e12},{"year":2016.35,"flops":2.8e12},{"year":2016.4,"flops":5e12},{"year":2016.45,"flops":8.9e12},{"year":2016.4,"flops":1.6e13},
{"year":2016.8,"flops":5.4e11},{"year":2016.75,"flops":9.7e11},{"year":2016.8,"flops":1.7e12},{"year":2016.85,"flops":3.1e12},{"year":2016.8,"flops":5.4e12},{"year":2016.75,"flops":9.7e12},{"year":2016.8,"flops":1.7e13},
{"year":2017.2,"flops":5.8e11},{"year":2017.25,"flops":1e12},{"year":2017.2,"flops":1.8e12},{"year":2017.15,"flops":3.2e12},{"year":2017.2,"flops":5.8e12},{"year":2017.25,"flops":1e13},{"year":2017.2,"flops":1.8e13},
{"year":2017.6,"flops":6.3e11},{"year":2017.55,"flops":1.1e12},{"year":2017.6,"flops":2e12},{"year":2017.65,"flops":3.5e12},{"year":2017.6,"flops":6.3e12},{"year":2017.55,"flops":1.1e13},{"year":2017.6,"flops":2e13},
{"year":2018.0,"flops":6.7e11},{"year":2018.05,"flops":1.2e12},{"year":2018.0,"flops":2.1e12},{"year":2017.95,"flops":3.8e12},{"year":2018.0,"flops":6.7e12},{"year":2018.05,"flops":1.2e13},
{"year":2018.4,"flops":7.1e11},{"year":2018.35,"flops":1.26e12},{"year":2018.4,"flops":2.2e12},{"year":2018.45,"flops":4e12},{"year":2018.4,"flops":7.1e12},{"year":2018.35,"flops":1.26e13},{"year":2018.4,"flops":2.2e13},
{"year":2018.8,"flops":7.5e11},{"year":2018.85,"flops":1.3e12},{"year":2018.8,"flops":2.4e12},{"year":2018.75,"flops":4.2e12},{"year":2018.8,"flops":7.5e12},{"year":2018.85,"flops":1.3e13},
{"year":2019.2,"flops":7.9e11},{"year":2019.15,"flops":1.4e12},{"year":2019.2,"flops":2.5e12},{"year":2019.25,"flops":4.5e12},{"year":2019.2,"flops":7.9e12},{"year":2019.15,"flops":1.4e13},
{"year":2019.6,"flops":8.9e11},{"year":2019.65,"flops":1.6e12},{"year":2019.6,"flops":2.8e12},{"year":2019.55,"flops":5e12},{"year":2019.6,"flops":8.9e12},{"year":2019.65,"flops":1.6e13}
],
"gridx":[{"year":1990},{"year":2000},{"year":2010},{"year":2020}],
"gridy":[{"flops":1e9},{"flops":1e12}]
},
"layer":[
{"data":{"values":[{"start":1980,"end":2012}]},
 "mark":{"type":"rect","color":"#f0f0f0"},
 "encoding":{"x":{"field":"start","type":"quantitative","title":"Year","scale":{"domain":[1980,2030],"nice":false,"zero":false},
   "axis":{"values":[1980,1990,2000,2010,2020,2030],"format":"d","title":"Year"}},
  "x2":{"field":"end"}}},
{"data":{"values":[{"start":2012,"end":2030}]},
 "mark":{"type":"rect","color":"#ffe3e3"},
 "encoding":{"x":{"field":"start","type":"quantitative","title":"Year"},"x2":{"field":"end"}}},
{"data":{"name":"cpu"},
 "mark":{"type":"point","filled":true,"size":50,"strokeWidth":0,"opacity":1},
 "encoding":{
  "x":{"field":"year","type":"quantitative","title":"Year"},
  "y":{"field":"flops","type":"quantitative","title":"Throughput","scale":{"type":"log","domain":[1e6,1e15],"nice":false},
   "axis":{"values":[1e6,1e9,1e12,1e15],"title":"Throughput","labelExpr":"datum.value < 1e7 ? '1 MFLOP/s' : datum.value < 1e10 ? '1 GFLOP/s' : datum.value < 1e13 ? '1 TFLOP/s' : '1 PFLOP/s'"}},
  "color":{"datum":"CPU","type":"nominal","scale":{"domain":["CPU","GPU"],"range":["rgba(0,0,255,0.5)","rgba(0,128,0,0.72)"]},
   "legend":{"title":null,"orient":"none","legendX":361,"legendY":215,"padding":7,"fillColor":"rgba(255,255,255,0.8)","strokeColor":"#d0d0d0","cornerRadius":4,"labelFontSize":16,"labelFont":"DejaVu Sans","labelColor":"#000","symbolSize":50,"symbolType":"circle","symbolOffset":12,"labelOffset":20,"rowPadding":7,"symbolStrokeWidth":0,"symbolOpacity":0.7}}}},
{"data":{"name":"gpu"},
 "mark":{"type":"point","filled":true,"size":48,"strokeWidth":0,"opacity":1},
 "encoding":{
  "x":{"field":"year","type":"quantitative","title":"Year"},
  "y":{"field":"flops","type":"quantitative","title":"Throughput"},
  "color":{"datum":"GPU","type":"nominal"}}},
{"data":{"name":"gridx"},
 "mark":{"type":"rule","color":"#b0b0b0","strokeWidth":1.3},
 "encoding":{"x":{"field":"year","type":"quantitative","title":"Year"}}},
{"data":{"name":"gridy"},
 "mark":{"type":"rule","color":"#b0b0b0","strokeWidth":1.3},
 "encoding":{"y":{"field":"flops","type":"quantitative","title":"Throughput"}}},
{"data":{"values":[{"top":1e15}]},
 "mark":{"type":"rule","color":"#000","strokeWidth":1.2},
 "encoding":{"y":{"field":"top","type":"quantitative","title":"Throughput"}}},
{"data":{"values":[{"right":2030}]},
 "mark":{"type":"rule","color":"#000","strokeWidth":1.2},
 "encoding":{"x":{"field":"right","type":"quantitative","title":"Year"}}}
]
}
